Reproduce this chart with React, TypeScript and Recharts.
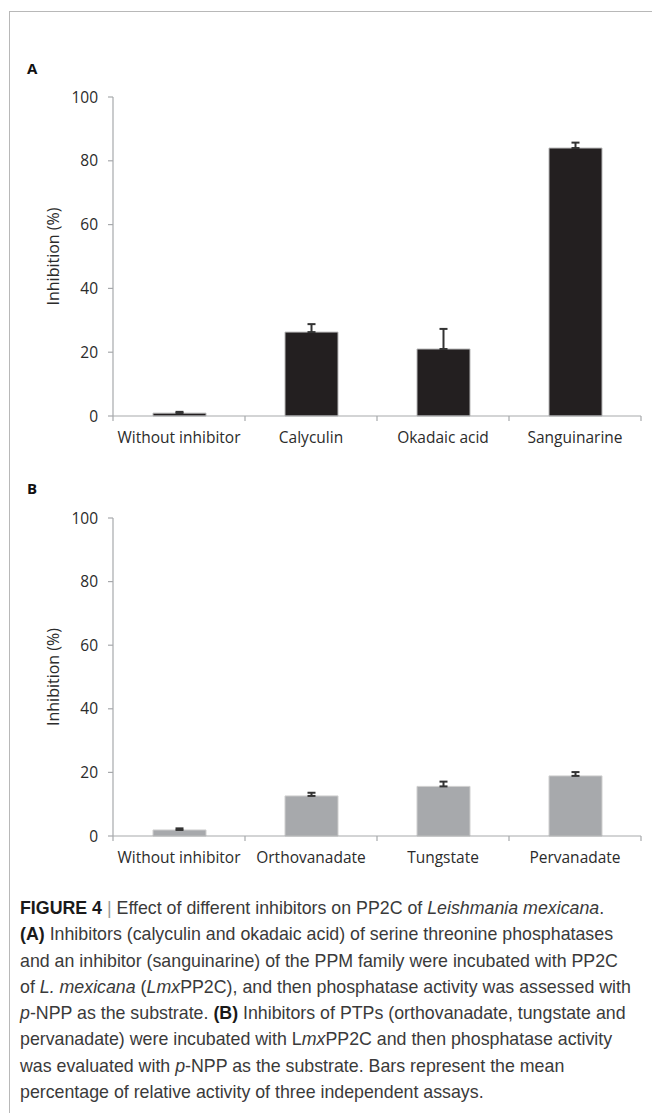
import { BarChart, Bar, XAxis, YAxis, ErrorBar, Label } from 'recharts';

// Panel A: serine/threonine phosphatase + PPM inhibitors
const SERINE_INHIBITORS = ['Without inhibitor', 'Calyculin', 'Okadaic acid', 'Sanguinarine'];
const SERINE_MEANS = [0.9, 26.3, 21.0, 84.0];
const SERINE_ERRORS = [0.4, 2.5, 6.3, 1.7];

// Panel B: PTP inhibitors
const PTP_INHIBITORS = ['Without inhibitor', 'Orthovanadate', 'Tungstate', 'Pervanadate'];
const PTP_MEANS = [1.9, 12.6, 15.6, 18.9];
const PTP_ERRORS = [0.5, 1.0, 1.5, 1.2];

const Y_TICKS = [0, 20, 40, 60, 80, 100];

const AXIS = '#a7a9ac';
const INK = '#2b2b2b';
const FONT = '"Open Sans", "Noto Sans", sans-serif';
const CHART_W = 652;
const CHART_H = 376;
const Y_AXIS_W = 113;
const RIGHT = 11;
const BAND = (CHART_W - Y_AXIS_W - RIGHT) / 4;

type Row = { name: string; value: number; err: [number, number] };

function buildRows(names: string[], means: number[], errors: number[]): Row[] {
  return names.map((name, i) => ({ name, value: means[i], err: [0, errors[i]] }));
}

type TickProps = {
  x?: number;
  y?: number;
  index?: number;
  payload?: { value: string };
  count: number;
};

// category labels, with Excel-style tick marks between the categories
function CategoryTick({ x = 0, y = 0, index = 0, payload, count }: TickProps) {
  const half = BAND / 2;
  return (
    <g>
      <line x1={x - half} y1={y} x2={x - half} y2={y + 5} stroke={AXIS} strokeWidth={1.2} />
      {index === count - 1 && (
        <line x1={x + half} y1={y} x2={x + half} y2={y + 5} stroke={AXIS} strokeWidth={1.2} />
      )}
      <text
        x={x}
        y={y + 27}
        textAnchor="middle"
        fill={INK}
        style={{ fontFamily: FONT, fontSize: 15.5 }}
      >
        {payload?.value}
      </text>
    </g>
  );
}

type PanelProps = {
  rows: Row[];
  fill: string;
  stroke: string;
  top: number;
  marginTop: number;
};

function InhibitionPanel({ rows, fill, stroke, top, marginTop }: PanelProps) {
  return (
    <div style={{ position: 'absolute', left: 0, top }}>
      <BarChart
        width={CHART_W}
        height={CHART_H}
        data={rows}
        margin={{ top: marginTop, right: RIGHT, bottom: 0, left: 0 }}
      >
        <XAxis
          dataKey="name"
          interval={0}
          height={40}
          tickSize={0}
          tickMargin={0}
          tickLine={false}
          axisLine={{ stroke: AXIS, strokeWidth: 1.2 }}
          tick={(p: any) => <CategoryTick {...p} count={rows.length} />}
        />
        <YAxis
          width={Y_AXIS_W}
          domain={[0, 100]}
          ticks={Y_TICKS}
          interval={0}
          tickSize={5}
          tickMargin={10}
          axisLine={{ stroke: AXIS, strokeWidth: 1.2 }}
          tickLine={{ stroke: AXIS, strokeWidth: 1.2 }}
          tick={{ fill: INK, fontSize: 15.5, fontFamily: FONT }}
        >
          <Label
            value="Inhibition (%)"
            angle={-90}
            position="insideLeft"
            offset={53}
            style={{ textAnchor: 'middle', fill: INK, fontSize: 16, fontFamily: FONT }}
          />
        </YAxis>
        <Bar dataKey="value" barSize={53} fill={fill} stroke={stroke} strokeWidth={1} isAnimationActive={false}>
          <ErrorBar dataKey="err" width={4} stroke="#333" strokeWidth={2} direction="y" />
        </Bar>
      </BarChart>
    </div>
  );
}

const captionText: React.CSSProperties = { whiteSpace: 'nowrap' };

export default function App() {
  const serineRows = buildRows(SERINE_INHIBITORS, SERINE_MEANS, SERINE_ERRORS);
  const ptpRows = buildRows(PTP_INHIBITORS, PTP_MEANS, PTP_ERRORS);

  return (
    <div
      style={{
        position: 'absolute',
        left: 0,
        top: 0,
        width: 652,
        height: 1113,
        background: '#fff',
        overflow: 'hidden',
      }}
    >
      {/* figure frame */}
      <div
        style={{
          position: 'absolute',
          left: 9,
          top: 11,
          width: 700,
          height: 1200,
          borderTop: '1px solid #b8b8b8',
          borderLeft: '1px solid #b8b8b8',
        }}
      />

      <div style={{ position: 'absolute', left: 27, top: 58, fontFamily: FONT, fontWeight: 700, fontSize: 15, color: '#111' }}>
        A
      </div>
      <InhibitionPanel rows={serineRows} fill="#231f20" stroke="#b8b8b8" top={80} marginTop={17} />

      <div style={{ position: 'absolute', left: 27, top: 478, fontFamily: FONT, fontWeight: 700, fontSize: 15, color: '#111' }}>
        B
      </div>
      <InhibitionPanel rows={ptpRows} fill="#a7a9ac" stroke="#cfcfcf" top={500} marginTop={18} />

      <div
        style={{
          position: 'absolute',
          left: 20,
          top: 895,
          fontFamily: '"Liberation Sans", Arial, sans-serif',
          fontSize: 17.8,
          lineHeight: '26.3px',
          color: '#3a3a3a',
        }}
      >
        <div style={captionText}>
          <b style={{ color: '#1a1a1a' }}>FIGURE 4</b> <span style={{ color: '#999' }}>|</span> Effect of different
          inhibitors on PP2C of <i>Leishmania mexicana</i>.
        </div>
        <div style={captionText}>
          <b style={{ color: '#1a1a1a' }}>(A)</b> Inhibitors (calyculin and okadaic acid) of serine threonine phosphatases
        </div>
        <div style={captionText}>
          and an inhibitor (sanguinarine) of the PPM family were incubated with PP2C
        </div>
        <div style={captionText}>
          of <i>L. mexicana</i> (<i>Lmx</i>PP2C), and then phosphatase activity was assessed with
        </div>
        <div style={captionText}>
          <i>p</i>-NPP as the substrate. <b style={{ color: '#1a1a1a' }}>(B)</b> Inhibitors of PTPs (orthovanadate, tungstate and
        </div>
        <div style={captionText}>
          pervanadate) were incubated with L<i>mx</i>PP2C and then phosphatase activity
        </div>
        <div style={captionText}>
          was evaluated with <i>p</i>-NPP as the substrate. Bars represent the mean
        </div>
        <div style={captionText}>percentage of relative activity of three independent assays.</div>
      </div>
    </div>
  );
}
